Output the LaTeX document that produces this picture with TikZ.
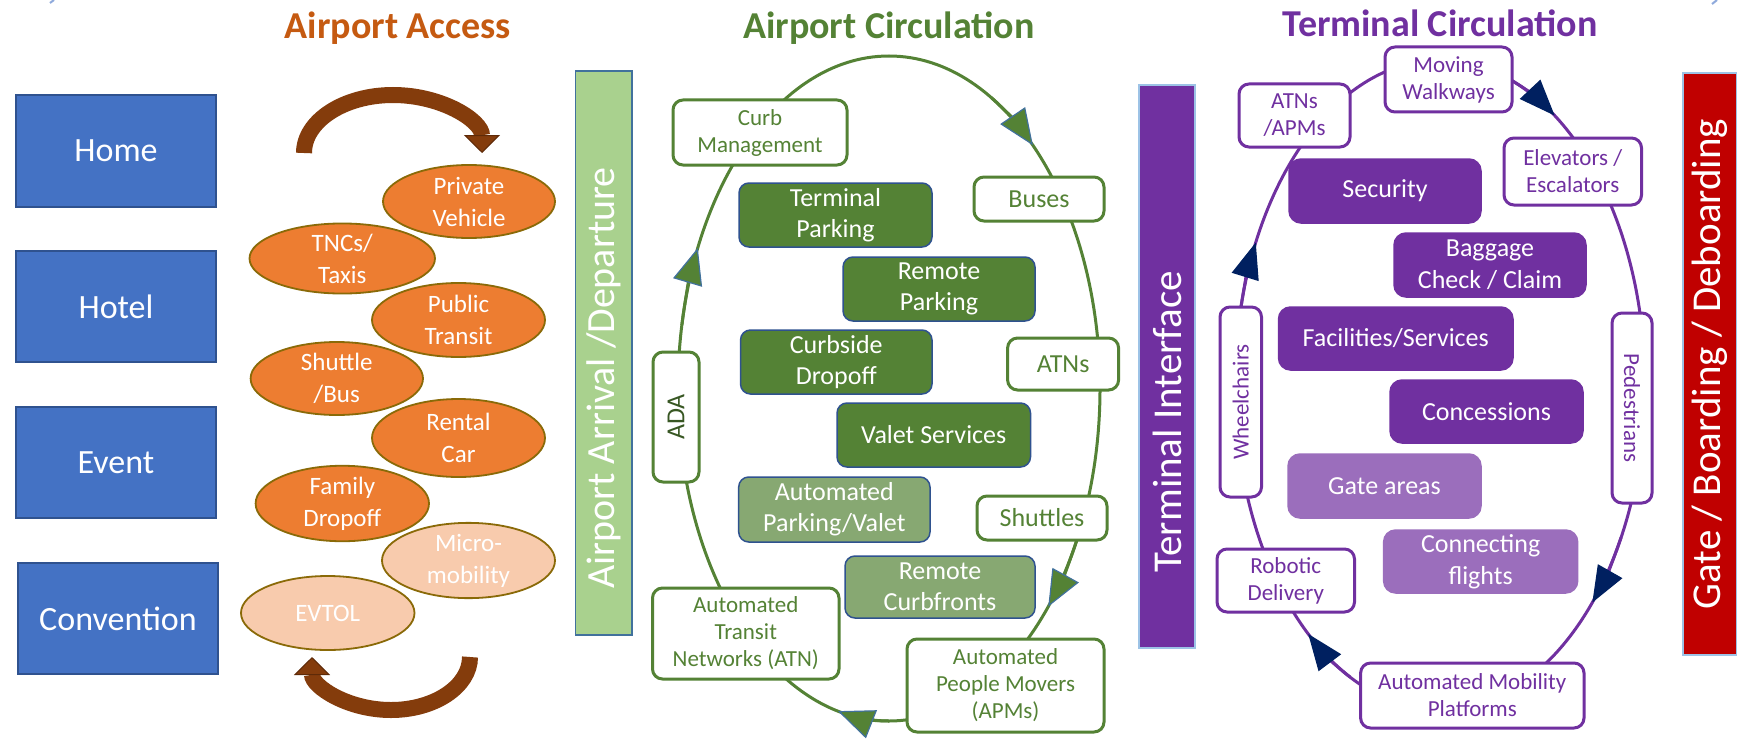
\documentclass[tikz,border=0pt]{standalone}
\usepackage{fontspec}
\setmainfont{Carlito}
\usetikzlibrary{shapes.geometric,arrows.meta,calc}
\definecolor{blueF}{HTML}{4472C4}
\definecolor{blueB}{HTML}{2F528F}
\definecolor{orangeF}{HTML}{ED7D31}
\definecolor{peachF}{HTML}{F8CBAD}
\definecolor{ovalB}{HTML}{8A6A08}
\definecolor{brownA}{HTML}{843C0C}
\definecolor{brownD}{HTML}{5E2A08}
\definecolor{accessT}{HTML}{C55A11}
\definecolor{greenC}{HTML}{548235}
\definecolor{greenL}{HTML}{87A872}
\definecolor{greenBar}{HTML}{A9D18E}
\definecolor{greenD}{HTML}{385723}
\definecolor{barEdge}{HTML}{41719C}
\definecolor{purpleC}{HTML}{7030A0}
\definecolor{purpleL}{HTML}{9B6EBC}
\definecolor{navyA}{HTML}{002060}
\definecolor{redBar}{HTML}{C00000}
\definecolor{lightEdge}{HTML}{9DC3E6}
\definecolor{braceC}{HTML}{8FAADC}
\newcommand\bx[7]{%
  \pgfmathsetmacro\bxcx{(#2+#4)/2}%
  \pgfmathsetmacro\bxcy{(#3+#5)/2}%
  \pgfmathsetmacro\bxw{(#4-#2)*0.5}%
  \pgfmathsetmacro\bxh{(#5-#3)*0.5}%
  \node[#6, minimum width=\bxw pt, minimum height=\bxh pt] (#1) at (\bxcx,\bxcy) {#7};}
\newcommand\vbx[7]{%
  \pgfmathsetmacro\bxcx{(#2+#4)/2}%
  \pgfmathsetmacro\bxcy{(#3+#5)/2}%
  \pgfmathsetmacro\bxw{(#5-#3)*0.5}%
  \pgfmathsetmacro\bxh{(#4-#2)*0.5}%
  \node[#6, minimum width=\bxw pt, minimum height=\bxh pt] (#1) at (\bxcx,\bxcy) {#7};}
\newcommand\looparrow[6]{%
  \pgfmathsetmacro\laS{#5-10}%
  \pgfmathsetmacro\laE{#5+4}%
  \draw[#6] ($(#1,#2)+(\laS:#3 and #4)$) arc[start angle=\laS, end angle=\laE, x radius=#3, y radius=#4];}
\tikzset{
  bluebox/.style={draw=blueB, line width=0.75pt, fill=blueF, text=white, inner sep=0pt, font=\fontsize{17pt}{20pt}\selectfont},
  ovalnode/.style={ellipse, draw=ovalB, line width=0.9pt, fill=orangeF, text=white, align=center, inner sep=0pt, font=\fontsize{12.5pt}{16pt}\selectfont},
  ovallight/.style={ovalnode, fill=peachF},
  gwhite/.style={draw=greenC, line width=1.5pt, fill=white, rounded corners=5pt, text=greenC, align=center, inner sep=0pt, font=\fontsize{11.5pt}{13.5pt}\selectfont},
  gwhiteL/.style={gwhite, font=\fontsize{13pt}{15pt}\selectfont},
  gfill/.style={draw=blueB, line width=0.75pt, fill=greenC, rounded corners=5pt, text=white, align=center, inner sep=0pt, font=\fontsize{13pt}{15.5pt}\selectfont},
  gfilllight/.style={gfill, fill=greenL},
  pwhite/.style={draw=purpleC, line width=1.5pt, fill=white, rounded corners=5pt, text=purpleC, align=center, inner sep=0pt, font=\fontsize{11.5pt}{13.5pt}\selectfont},
  pfill/.style={draw=purpleC, line width=0.75pt, fill=purpleC, rounded corners=6pt, text=white, align=center, inner sep=0pt, font=\fontsize{13pt}{16pt}\selectfont},
  pfilllight/.style={pfill, fill=purpleL, draw=purpleL},
  sidebar/.style={line width=0.75pt, inner sep=0pt},
  bartext/.style={text=white, inner sep=0pt, rotate=90, font=\fontsize{20pt}{24pt}\selectfont},
  ttl/.style={inner sep=0pt, font=\bfseries\fontsize{19pt}{22pt}\selectfont},
  gline/.style={draw=greenC, line width=1.5pt},
  pline/.style={draw=purpleC, line width=1.5pt},
  garrow/.style={gline, -{Triangle[length=18pt,width=15pt,line width=0.6pt,color=barEdge,fill=greenC]}},
  parrow/.style={pline, -{Triangle[length=18pt,width=14pt,line width=0.6pt,color=navyA,fill=navyA]}},
  brownarrow/.style={draw=brownA, line width=8pt, -{Triangle[length=9pt,width=18pt,line width=0.5pt,color=brownD,fill=brownA]}},
}
\begin{document}
\begin{tikzpicture}[x=0.5pt,y=-0.5pt]
\useasboundingbox (0,0) rectangle (1754,738);
\fill[white] (0,0) rectangle (1754,738);
% brace fragments
\draw[braceC, line width=1pt] (50,3) -- (54,0);
\draw[braceC, line width=1pt] (1712,4) -- (1717,0);
% titles
\node[ttl, text=accessT] (t1) at (398,28) {Airport Access};
\node[ttl, text=greenC] (t2) at (889,28) {Airport Circulation};
\node[ttl, text=purpleC] (t3) at (1440,23) {Terminal Circulation};
% left column
\bx{home}{16}{95}{216}{207}{bluebox}{Home}
\bx{hotel}{16}{251}{216}{362}{bluebox}{Hotel}
\bx{event}{16}{407}{216}{518}{bluebox}{Event}
\bx{conv}{18}{563}{218}{674}{bluebox}{Convention}
% access arrows
\draw[brownarrow] (304,153) arc[start angle=180, end angle=360, x radius=89, y radius=58];
\draw[brownarrow] (470,657) arc[start angle=0, end angle=180, x radius=79, y radius=53];
% ovals
\bx{pv}{383}{165}{555}{238}{ovalnode}{Private\\Vehicle}
\bx{tnc}{249.5}{225}{435}{292}{ovalnode}{TNCs/\\Taxis}
\bx{pt}{372}{283}{545}{357}{ovalnode}{Public\\Transit}
\bx{sb}{250.6}{342}{423}{415}{ovalnode}{Shuttle\\/Bus}
\bx{rc}{372}{399}{545}{477}{ovalnode}{Rental\\Car}
\bx{fd}{255.6}{466}{429}{541}{ovalnode}{Family\\Dropoff}
\bx{mm}{382}{523}{555}{598}{ovallight}{Micro-\\mobility}
\bx{ev}{241}{576}{414.5}{650}{ovallight}{EVTOL}
% bars
\bx{gbar}{575.5}{71}{632}{635}{sidebar, fill=greenBar, draw=barEdge}{}
\node[bartext] (gbarT) at (603.75,378) {Airport Arrival /Departure};
\bx{tbar}{1139}{85}{1195}{648}{sidebar, fill=purpleC, draw=lightEdge}{}
\node[bartext, font=\fontsize{20.5pt}{24pt}\selectfont] (tbarT) at (1167,422) {Terminal Interface};
\bx{rbar}{1683}{73}{1736.5}{655}{sidebar, fill=redBar, draw=lightEdge}{}
\node[bartext, font=\fontsize{20.5pt}{24pt}\selectfont] (rbarT) at (1709.75,364) {Gate / Boarding / Deboarding};
% loops
\draw[gline] (889,388.5) ellipse[x radius=211, y radius=332.5];
\draw[pline] (1440,385) ellipse[x radius=205, y radius=325];
\looparrow{889}{388.5}{211}{332.5}{309}{garrow}
\looparrow{889}{388.5}{211}{332.5}{201}{garrow}
\looparrow{889}{388.5}{211}{332.5}{37}{garrow}
\looparrow{889}{388.5}{211}{332.5}{100}{garrow}
\looparrow{1440}{385}{205}{325}{300}{parrow}
\looparrow{1440}{385}{205}{325}{38}{parrow}
\looparrow{1440}{385}{205}{325}{126}{parrow}
\looparrow{1440}{385}{205}{325}{202}{parrow}
% airport circulation
\bx{curb}{673}{100}{847}{165}{gwhite}{Curb\\Management}
\bx{buses}{974}{177}{1104}{221}{gwhiteL}{Buses}
\bx{tpark}{739}{183}{932}{247}{gfill}{Terminal\\Parking}
\bx{rpark}{843}{257}{1035}{321}{gfill}{Remote\\Parking}
\bx{curbs}{740.5}{330}{932}{394}{gfill}{Curbside\\Dropoff}
\bx{atns}{1007.6}{338}{1118.6}{390}{gwhiteL}{ATNs}
\vbx{ada}{653}{352}{699}{482}{gwhiteL, rotate=90, text=greenD}{ADA}
\bx{valet}{837}{403}{1030.5}{467}{gfill}{Valet Services}
\bx{apv}{738.7}{477}{930}{542}{gfilllight}{Automated\\Parking/Valet}
\bx{shut}{977}{496}{1107}{540}{gwhiteL}{Shuttles}
\bx{rcurb}{845}{556}{1035}{618}{gfilllight}{Remote\\Curbfronts}
\bx{atn}{652.5}{588}{839}{679}{gwhite}{Automated\\Transit\\Networks (ATN)}
\bx{apm}{907}{639}{1104}{732}{gwhite}{Automated\\People Movers\\(APMs)}
% terminal circulation
\bx{mw}{1385}{47}{1512}{112}{pwhite}{Moving\\Walkways}
\bx{aa}{1239}{84}{1350}{147}{pwhite}{ATNs\\/APMs}
\bx{elev}{1504}{138}{1641.5}{205}{pwhite}{Elevators /\\Escalators}
\bx{sec}{1289}{159}{1481}{223}{pfill}{Security}
\bx{bag}{1394}{233}{1586}{297}{pfill}{Baggage\\Check / Claim}
\vbx{wc}{1220}{307}{1261.5}{497}{pwhite, rotate=90}{Wheelchairs}
\bx{fac}{1278.5}{307}{1513}{370}{pfill}{Facilities/Services}
\vbx{ped}{1612}{313}{1652}{503}{pwhite, rotate=-90}{Pedestrians}
\bx{conc}{1390}{380}{1583}{443}{pfill}{Concessions}
\bx{gate}{1288}{454}{1481}{518}{pfilllight}{Gate areas}
\bx{conn}{1383.6}{530}{1577.7}{593}{pfilllight}{Connecting\\flights}
\bx{robo}{1217}{549}{1354.5}{612}{pwhite}{Robotic\\Delivery}
\bx{amp}{1360.6}{663}{1584}{728}{pwhite}{Automated Mobility\\Platforms}
\end{tikzpicture}
\end{document}
